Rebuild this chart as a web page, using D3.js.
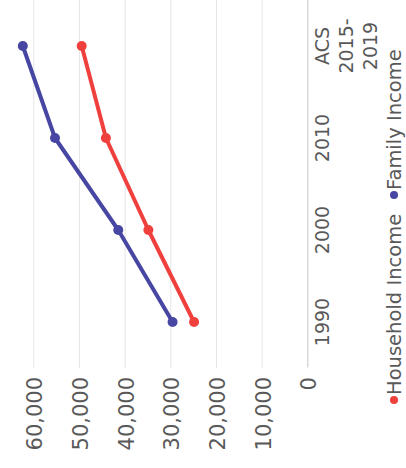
<!DOCTYPE html>
<html>
<head>
<meta charset="utf-8">
<script src="https://cdn.jsdelivr.net/npm/d3@7"></script>
<style>
  html, body { margin: 0; padding: 0; background: #ffffff; }
  svg { display: block; font-family: "DejaVu Sans", sans-serif; }
</style>
</head>
<body>
<svg id="chart" width="406" height="468"></svg>
<script>
// ---- data ----
const categories = ["1990", "2000", "2010", "ACS 2015-2019"];
const categoryLines = [["1990"], ["2000"], ["2010"], ["ACS", "2015-", "2019"]];
const householdIncome = [24800, 34800, 44100, 49400];
const familyIncome = [29500, 41400, 55250, 62300];
const valueTicks = [0, 10000, 20000, 30000, 40000, 50000, 60000];
const seriesNames = ["Household Income", "Family Income"];

// ---- styling ----
const colors = { "Household Income": "#f0403e", "Family Income": "#4746a2" };
const textColor = "#595959";

const svg = d3.select("#chart");
const plotW = 368;   // category extent (before rotation)
// The whole chart is drawn in normal orientation and rotated 90deg CCW.
const g = svg.append("g").attr("transform", `translate(0,${plotW}) rotate(-90)`);

const x = d3.scaleBand().domain(categories).range([0, plotW]).padding(0);
const y = d3.scaleLinear().domain([0, 60000]).range([307.3, 33.3]);

// gridlines
const grid = g.append("g").call(
  d3.axisLeft(y).tickValues(valueTicks.filter(v => v > 0)).tickSize(-plotW).tickFormat("")
);
grid.select(".domain").remove();
grid.selectAll("line").attr("stroke", "#e6e6e6").attr("stroke-width", 1);

// value axis labels
const yAx = g.append("g").call(
  d3.axisLeft(y).tickValues(valueTicks).tickSize(0).tickPadding(9).tickFormat(d3.format(","))
);
yAx.select(".domain").remove();
yAx.selectAll("text")
  .attr("fill", textColor)
  .attr("font-size", 21)
  .attr("font-family", "DejaVu Sans, sans-serif")
  .attr("dy", "0.4em");

// category axis (baseline)
const xAx = g.append("g").attr("transform", `translate(0,${y(0)})`)
  .call(d3.axisBottom(x).tickSize(0).tickPadding(0));
xAx.select(".domain").attr("stroke", "#c6c6c6").attr("stroke-width", 1);
xAx.selectAll(".tick text").each(function(d, i) {
  const t = d3.select(this);
  t.text(null).attr("y", 0).attr("dy", null)
    .attr("fill", textColor).attr("font-size", 19)
    .attr("font-family", "DejaVu Sans, sans-serif");
  categoryLines[i].forEach((ln, k) => {
    t.append("tspan").attr("x", 0).attr("y", 22 + k * 24).text(ln);
  });
});

// lines + markers
const series = [
  { name: seriesNames[0], values: householdIncome },
  { name: seriesNames[1], values: familyIncome }
];
const line = d3.line()
  .x((d, i) => x(categories[i]) + x.bandwidth() / 2)
  .y(d => y(d));

series.forEach(s => {
  g.append("path")
    .datum(s.values)
    .attr("fill", "none")
    .attr("stroke", colors[s.name])
    .attr("stroke-width", 4)
    .attr("stroke-linejoin", "round")
    .attr("d", line);
  g.selectAll(null)
    .data(s.values)
    .enter()
    .append("circle")
    .attr("cx", (d, i) => x(categories[i]) + x.bandwidth() / 2)
    .attr("cy", d => y(d))
    .attr("r", 5)
    .attr("fill", colors[s.name]);
});

// legend (in unrotated frame, below the category labels)
const legend = g.append("g").attr("transform", "translate(0,394)");
const legendPos = [-32, 173];
series.forEach((s, i) => {
  legend.append("circle")
    .attr("cx", legendPos[i]).attr("cy", 0).attr("r", 4)
    .attr("fill", colors[s.name]);
  legend.append("text")
    .attr("x", legendPos[i] + 5).attr("y", 0).attr("dy", "0.36em")
    .attr("fill", textColor).attr("font-size", 19.5)
    .attr("font-family", "DejaVu Sans, sans-serif")
    .text(s.name);
});
</script>
</body>
</html>
